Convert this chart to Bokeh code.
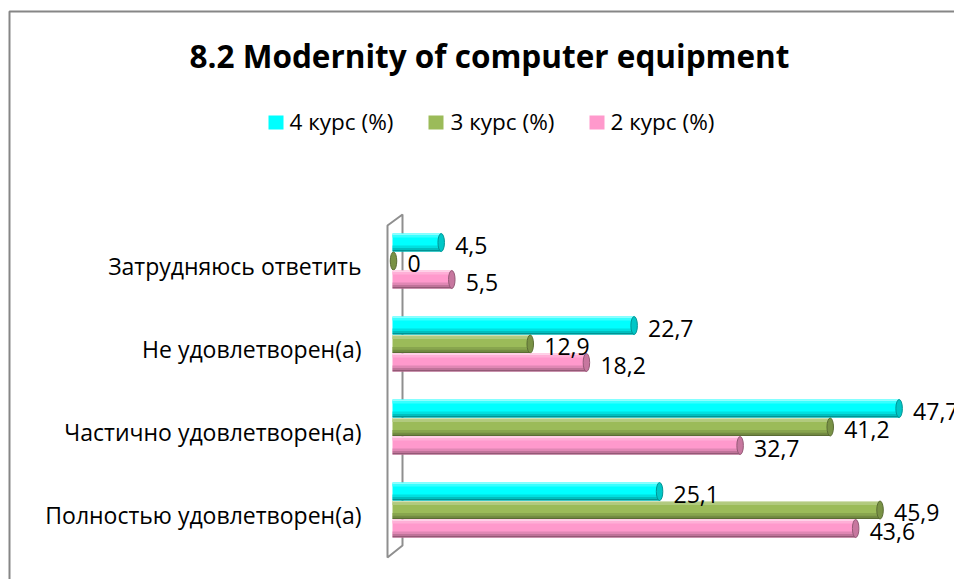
from bokeh.plotting import figure
from bokeh.models import Range1d, ColumnDataSource
from bokeh.embed import file_html
from bokeh.resources import INLINE
from bokeh.core.properties import value

# ---------------- data ----------------
categories = ["Полностью удовлетворен(а)", "Частично удовлетворен(а)",
              "Не удовлетворен(а)", "Затрудняюсь ответить"]
series_names = ["4 курс (%)", "3 курс (%)", "2 курс (%)"]
course4 = [25.1, 47.7, 22.7, 4.5]
course3 = [45.9, 41.2, 12.9, 0.0]
course2 = [43.6, 32.7, 18.2, 5.5]
title_text = "8.2 Modernity of computer equipment"

series_values = [course4, course3, course2]
series_colors = ["#00FFFF", "#9BBB59", "#FF99CC"]

# ---------------- geometry ----------------
W, H = 954, 579
PX = 10.6      # pixels per value unit
X0 = 393.0     # canvas x of value 0
PY = 83.0      # pixels per category step
Y0 = 509.5     # canvas y of first category centre
FONT = value("Open Sans")
BASE_FIX = 0.37   # baseline correction (fraction of font size)


def dx(px):
    return (px - X0) / PX


def dy(py):
    return (Y0 - py) / PY


def fix(fs):
    return BASE_FIX * fs / PY


def mix(hexcol, f):
    r, g, b = (int(hexcol[i:i + 2], 16) for i in (1, 3, 5))
    if f >= 0:
        r, g, b = (c + (255 - c) * f for c in (r, g, b))
    else:
        r, g, b = (c * (1 + f) for c in (r, g, b))
    return "#%02x%02x%02x" % tuple(int(round(max(0, min(255, c)))) for c in (r, g, b))


p = figure(width=W, height=H, output_backend="svg", toolbar_location=None,
           x_range=Range1d(dx(0), dx(W)), y_range=Range1d(dy(H), dy(0)),
           x_axis_location=None, y_axis_location=None,
           min_border=0, min_border_left=0, min_border_right=0,
           min_border_top=0, min_border_bottom=0)
p.grid.visible = False
p.outline_line_color = None
p.background_fill_color = "white"
p.border_fill_color = "white"

# chart border (top and left visible)
p.line(x=[dx(9), dx(9), dx(980)], y=[dy(600), dy(11), dy(11)],
       line_color="#868686", line_width=2)

# 3D side wall
p.patch(x=[dx(387), dx(402), dx(402), dx(387)],
        y=[dy(225), dy(214), dy(545), dy(557)],
        fill_color=None, line_color="#8f8f8f", line_width=2)

# bars (cylinder look): base + highlight / shadow bands (pixels from top, height, shade)
bar_h = 18.0 / PY
step = 18.5 / PY
offsets = [step, 0.0, -step]
bands = [(0.0, 1.5, 0.55), (1.5, 2.5, 0.22), (12.0, 2.5, -0.12),
         (14.5, 2.0, -0.25), (16.5, 1.5, -0.42)]
start = dx(392)
label_rows = []
for vals, col, off in zip(series_values, series_colors, offsets):
    ys = [i + off for i in range(len(categories))]
    p.hbar(y=ys, left=start, right=vals, height=bar_h,
           fill_color=col, line_color=None)
    for top, hh, f in bands:
        yk = [y + bar_h / 2 - (top + hh / 2) / PY for y in ys]
        p.hbar(y=yk, left=start, right=vals, height=hh / PY,
               fill_color=mix(col, f), line_color=None)
    p.ellipse(x=vals, y=ys, width=6.5 / PX, height=bar_h,
              fill_color=mix(col, -0.22), line_color=mix(col, -0.42), line_width=1)
    for v, y in zip(vals, ys):
        label_rows.append((v + 14 / PX, y - 11.5 / PY + fix(23),
                           ("%g" % v).replace(".", ",")))

# value labels drawn above all bars
src = ColumnDataSource(dict(x=[r[0] for r in label_rows], y=[r[1] for r in label_rows],
                            t=[r[2] for r in label_rows]))
p.text(x="x", y="y", text="t", source=src, text_font=FONT,
       text_font_size="23px", text_align="left", text_baseline="alphabetic",
       text_color="black")

# category labels
p.text(x=[dx(361)] * len(categories),
       y=[i - 14 / PY + fix(23) for i in range(len(categories))],
       text=categories, text_font=FONT, text_font_size="23px",
       text_align="right", text_baseline="alphabetic", text_color="black")

# title
p.text(x=[dx(489)], y=[dy(67) + fix(31.5)], text=[title_text], text_font=FONT,
       text_font_style="bold", text_font_size="31.5px", text_align="center",
       text_baseline="alphabetic", text_color="black")

# legend
leg_sq = [275.5, 435.5, 596.5]
leg_tx = [289, 450, 610]
for name, col, sx, tx in zip(series_names, series_colors, leg_sq, leg_tx):
    p.rect(x=[dx(sx)], y=[dy(122)], width=15 / PX, height=14 / PY,
           fill_color=col, line_color=None)
    p.text(x=[dx(tx)], y=[dy(129) + fix(22.5)], text=[name], text_font=FONT,
           text_font_size="22.5px", text_align="left", text_baseline="alphabetic",
           text_color="black")

open("out.html", "w").write(file_html(p, INLINE))
